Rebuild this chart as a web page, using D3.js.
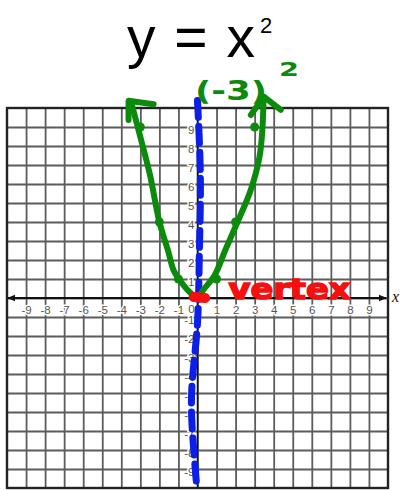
<!DOCTYPE html>
<html>
<head>
<meta charset="utf-8">
<script src="https://cdn.jsdelivr.net/npm/d3@7"></script>
<style>
  body { margin: 0; background: #fff; }
  svg { display: block; }
</style>
</head>
<body>
<svg id="chart" width="401" height="490"></svg>
<script>
// Graph paper: integer grid from -10 to 10 on both axes
const gridValues = [-9, -8, -7, -6, -5, -4, -3, -2, -1, 0, 1, 2, 3, 4, 5, 6, 7, 8, 9];
const xTickValues = [-9, -8, -7, -6, -5, -4, -3, -2, -1, 1, 2, 3, 4, 5, 6, 7, 8, 9];
const xTickLabels = ["-9", "-8", "-7", "-6", "-5", "-4", "-3", "-2", "-1", "1", "2", "3", "4", "5", "6", "7", "8", "9"];
const yTickValues = [9, 8, 7, 6, 5, 4, 3, 2, 1, -1, -2, -3, -4, -5, -6, -7, -8, -9];
const yTickLabels = ["9", "8", "7", "6", "5", "4", "3", "2", "1", "-1", "-2", "-3", "-4", "-5", "-6", "-7", "-8", "-9"];

// Plotted points of y = x^2
const pointX = [-3, -2, -1, 1, 2, 3];
const pointY = [9, 4, 1, 1, 4, 9];

// Hand-sketched parabola through the points
const curveX = [-3.45, -3.1, -2.5, -2.0, -1.55, -1.25, -0.9, -0.4, 0.0, 0.3, 0.9, 1.45, 2.08, 2.8, 3.25, 3.4, 3.47];
const curveY = [10.2, 8.85, 6.5, 4.0, 2.5, 1.45, 0.9, 0.3, 0.0, 0.42, 1.2, 2.5, 3.95, 5.7, 7.4, 8.8, 10.55];

// Arrowheads at both ends of the parabola
const leftHeadX = [-2.3, -3.62, -3.62];
const leftHeadY = [10.2, 10.38, 9.37];
const rightHeadX = [2.8, 3.48, 4.37];
const rightHeadY = [9.63, 10.6, 9.9];

// Axis of symmetry (x = 0), sketched dashed
const symX = [0.0, 0.15, 0.1, 0.0, -0.3, -0.3, -0.05];
const symY = [10.4, 6.5, 2.5, -1.3, -4.8, -6.4, -9.8];

// Vertex mark
const vertexX = [-0.2, 0.4];
const vertexY = [0.05, 0.0];

const svg = d3.select("#chart");
const x = d3.scaleLinear().domain([-10, 10]).range([7, 388]);
const y = d3.scaleLinear().domain([-10, 10]).range([488, 108]);

// Title
svg.append("text")
  .attr("x", 127).attr("y", 57)
  .attr("font-family", "Liberation Sans, Arial, sans-serif")
  .attr("font-size", 57)
  .attr("word-spacing", 3)
  .attr("fill", "#000")
  .text("y = x");
svg.append("text")
  .attr("x", 260).attr("y", 33)
  .attr("font-family", "Liberation Sans, Arial, sans-serif")
  .attr("font-size", 22)
  .text("2");

// Grid lines drawn with axes (tick lines only)
const gridColor = "#5c5c5c";
const vGrid = svg.append("g")
  .attr("transform", `translate(0,${y(-10)})`)
  .call(d3.axisBottom(x).tickValues(gridValues).tickSize(-(y(-10) - y(10))).tickFormat(""));
const hGrid = svg.append("g")
  .attr("transform", `translate(${x(-10)},0)`)
  .call(d3.axisLeft(y).tickValues(gridValues).tickSize(-(x(10) - x(-10))).tickFormat(""));
[vGrid, hGrid].forEach(g => {
  g.select(".domain").remove();
  g.selectAll(".tick line").attr("stroke", gridColor).attr("stroke-width", 1.8);
});

// Outer border
svg.append("rect")
  .attr("x", x(-10)).attr("y", y(10))
  .attr("width", x(10) - x(-10)).attr("height", y(-10) - y(10))
  .attr("fill", "none").attr("stroke", "#222").attr("stroke-width", 2.4);

// Arrow markers for the coordinate axes
const defs = svg.append("defs");
defs.append("marker").attr("id", "axisArrow")
  .attr("viewBox", "0 0 10 10").attr("refX", 9).attr("refY", 5)
  .attr("markerWidth", 8).attr("markerHeight", 8).attr("markerUnits", "userSpaceOnUse")
  .attr("orient", "auto-start-reverse")
  .append("path").attr("d", "M0,1 L10,5 L0,9 Z").attr("fill", "#111");

// x-axis
svg.append("line")
  .attr("x1", x(-9.95)).attr("x2", x(9.9))
  .attr("y1", y(0)).attr("y2", y(0))
  .attr("stroke", "#111").attr("stroke-width", 1.8)
  .attr("marker-start", "url(#axisArrow)").attr("marker-end", "url(#axisArrow)");
// y-axis
svg.append("line")
  .attr("x1", x(0)).attr("x2", x(0))
  .attr("y1", y(-10)).attr("y2", y(10.55))
  .attr("stroke", "#111").attr("stroke-width", 1.5)
  .attr("marker-end", "url(#axisArrow)");

svg.append("text")
  .attr("x", 392).attr("y", 302)
  .attr("font-family", "Liberation Serif, DejaVu Serif, serif")
  .attr("font-style", "italic")
  .attr("font-size", 16)
  .attr("fill", "#111")
  .text("x");

// Tick labels
const labelFont = "Liberation Sans, Arial, sans-serif";
const xLab = svg.append("g")
  .attr("transform", `translate(0,${y(0) + 1})`)
  .call(d3.axisBottom(x).tickValues(xTickValues).tickSize(0).tickPadding(7)
    .tickFormat((d, i) => xTickLabels[i]));
const yLab = svg.append("g")
  .attr("transform", `translate(${x(0) - 3},3)`)
  .call(d3.axisLeft(y).tickValues(yTickValues).tickSize(0).tickPadding(0)
    .tickFormat((d, i) => yTickLabels[i]));
[xLab, yLab].forEach(g => {
  g.select(".domain").remove();
  g.selectAll("text")
    .attr("font-family", labelFont)
    .attr("font-size", 11.5)
    .attr("fill", "#555")
    .attr("stroke", "#fff").attr("stroke-width", 3)
    .attr("paint-order", "stroke");
});
svg.append("text")
  .attr("x", x(0) - 6).attr("y", y(0) + 15)
  .attr("text-anchor", "middle")
  .attr("font-family", labelFont).attr("font-size", 11.5)
  .attr("fill", "#555").attr("stroke", "#fff").attr("stroke-width", 3)
  .attr("paint-order", "stroke")
  .text("0");

// Dashed axis of symmetry
const sketch = d3.line().x(d => x(d[0])).y(d => y(d[1])).curve(d3.curveCatmullRom.alpha(0.5));
svg.append("path")
  .attr("d", sketch(symX.map((v, i) => [v, symY[i]])))
  .attr("fill", "none").attr("stroke", "#0b1fe8").attr("stroke-width", 7)
  .attr("stroke-linecap", "round")
  .attr("stroke-dasharray", "17,9");

// Parabola
const green = "#0c8a0c";
svg.append("path")
  .attr("d", sketch(curveX.map((v, i) => [v, curveY[i]])))
  .attr("fill", "none").attr("stroke", green).attr("stroke-width", 6)
  .attr("stroke-linecap", "round").attr("stroke-linejoin", "round");
const straight = d3.line().x(d => x(d[0])).y(d => y(d[1]));
[[leftHeadX, leftHeadY], [rightHeadX, rightHeadY]].forEach(([hx, hy]) => {
  svg.append("path")
    .attr("d", straight(hx.map((v, i) => [v, hy[i]])))
    .attr("fill", "none").attr("stroke", green).attr("stroke-width", 6)
    .attr("stroke-linecap", "round").attr("stroke-linejoin", "round");
});
svg.append("g").selectAll("circle")
  .data(pointX.map((v, i) => [v, pointY[i]]))
  .join("circle")
  .attr("cx", d => x(d[0])).attr("cy", d => y(d[1]))
  .attr("r", 4.5).attr("fill", green);

// (-3)^2 annotation
svg.append("text")
  .attr("x", 195).attr("y", 100)
  .attr("font-family", "DejaVu Sans, sans-serif").attr("font-weight", "bold")
  .attr("font-size", 27).attr("fill", green)
  .attr("textLength", 72).attr("lengthAdjust", "spacingAndGlyphs")
  .text("(-3)");
svg.append("text")
  .attr("x", 279).attr("y", 76)
  .attr("font-family", "DejaVu Sans, sans-serif").attr("font-weight", "bold")
  .attr("font-size", 20).attr("fill", green)
  .attr("textLength", 20).attr("lengthAdjust", "spacingAndGlyphs")
  .text("2");

// Vertex
const red = "#f50f0f";
svg.append("path")
  .attr("d", straight(vertexX.map((v, i) => [v, vertexY[i]])))
  .attr("stroke", red).attr("stroke-width", 10).attr("stroke-linecap", "round");
svg.append("text")
  .attr("x", x(0) + 31).attr("y", y(0) + 1)
  .attr("font-family", "DejaVu Sans, sans-serif").attr("font-weight", "bold")
  .attr("font-size", 28).attr("fill", red)
  .attr("stroke", red).attr("stroke-width", 1.5)
  .attr("textLength", 122).attr("lengthAdjust", "spacingAndGlyphs")
  .text("vertex");
</script>
</body>
</html>
